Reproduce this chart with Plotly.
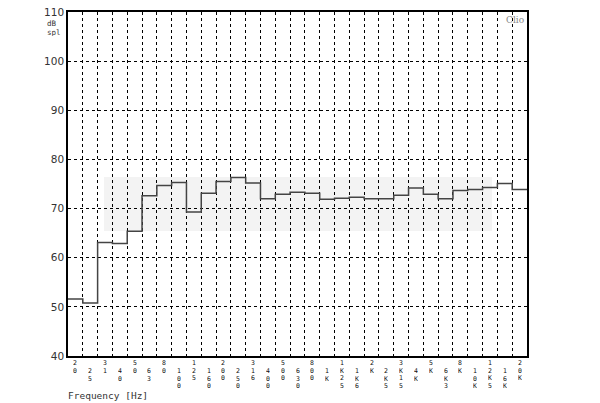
import plotly.graph_objects as go

bands = ["20", "25", "31.5", "40", "50", "63", "80", "100", "125", "160", "200", "250",
         "315", "400", "500", "630", "800", "1K", "1K25", "1K6", "2K", "2K5", "3K15", "4K",
         "5K", "6K3", "8K", "10K", "12K5", "16K", "20K"]
tick_labels = ["20", "25", "31", "40", "50", "63", "80", "100", "125", "160", "200", "250",
               "316", "400", "500", "630", "800", "1K", "1K25", "1K6", "2K", "2K5", "3K15", "4K",
               "5K", "6K3", "8K", "10K", "12K5", "16K", "20K"]
spl_db = [51.6, 50.8, 63.1, 62.9, 65.4, 72.6, 74.7, 75.3, 69.3, 73.1, 75.5, 76.3,
          75.2, 72.0, 72.9, 73.3, 73.1, 71.9, 72.1, 72.3, 72.0, 72.0, 72.7, 74.2,
          72.9, 72.0, 73.7, 73.9, 74.3, 75.1, 73.9]
y_ticks = [40, 50, 60, 70, 80, 90, 100, 110]

n = len(bands)
xs = list(range(n)) + [n]
ys = spl_db + [spl_db[-1]]

fig = go.Figure()
fig.add_trace(go.Scatter(x=xs, y=ys, mode="lines", line=dict(shape="hv", color="#444444", width=1.5),
                         hoverinfo="skip", showlegend=False))

# faint watermark band
fig.add_shape(type="rect", xref="paper", yref="paper", x0=(104-68)/459, x1=(492-68)/459,
              y0=(356-231)/344, y1=(356-177)/344, fillcolor="#f3f3f3", line=dict(width=0),
              layer="below")

mono = "DejaVu Sans Mono"
char_step = 7.6
for i, lab in enumerate(tick_labels):
    base = -6.5 if i % 2 == 0 else -14.5
    for j, ch in enumerate(lab):
        fig.add_annotation(x=i + 0.5, xref="x", y=0, yref="paper", yanchor="middle", xanchor="center",
                           text=ch, showarrow=False, font=dict(family=mono, size=6.5, color="#111111"),
                           yshift=base - j * char_step, borderpad=0, height=7)

fig.add_annotation(x=0, xref="paper", y=0, yref="paper", xanchor="left", yanchor="middle",
                   yshift=-39, xshift=-2, text="Frequency [Hz]", showarrow=False,
                   font=dict(family=mono, size=9.5, color="#333333"))
fig.add_annotation(x=0, xref="paper", y=1, yref="paper", xanchor="left", yanchor="middle",
                   xshift=-22, yshift=-11, text="dB", showarrow=False, height=8, borderpad=0,
                   font=dict(family=mono, size=7.5, color="#333333"))
fig.add_annotation(x=0, xref="paper", y=1, yref="paper", xanchor="left", yanchor="middle",
                   xshift=-22, yshift=-20, text="spl", showarrow=False, height=8, borderpad=0,
                   font=dict(family=mono, size=7.5, color="#333333"))
fig.add_annotation(x=1, xref="paper", y=1, yref="paper", xanchor="right", yanchor="top",
                   xshift=-1, yshift=-1, text="Clio", showarrow=False,
                   font=dict(family="DejaVu Serif", size=9, color="#888888"))

fig.update_xaxes(range=[0, n], tickvals=list(range(1, n)), showticklabels=False, ticks="",
                 showgrid=True, gridcolor="#000000", griddash="dot", gridwidth=1, automargin=False,
                 showline=True, linecolor="#000000", linewidth=1.5, mirror=True, zeroline=False)
fig.update_yaxes(range=[40, 110], tickvals=y_ticks, ticks="", showgrid=True, automargin=False,
                 gridcolor="#000000", griddash="dot", gridwidth=1,
                 showline=True, linecolor="#000000", linewidth=1.5, mirror=True, zeroline=False,
                 ticklabelstandoff=0,
                 tickfont=dict(family="DejaVu Sans", size=10.5, color="#333333"))

fig.update_layout(width=600, height=403, margin=dict(l=68, r=73, t=12, b=47),
                  paper_bgcolor="white", plot_bgcolor="white")

fig.write_html("out.html", post_script="document.body.style.margin='0';",
               config={"displayModeBar": False})
